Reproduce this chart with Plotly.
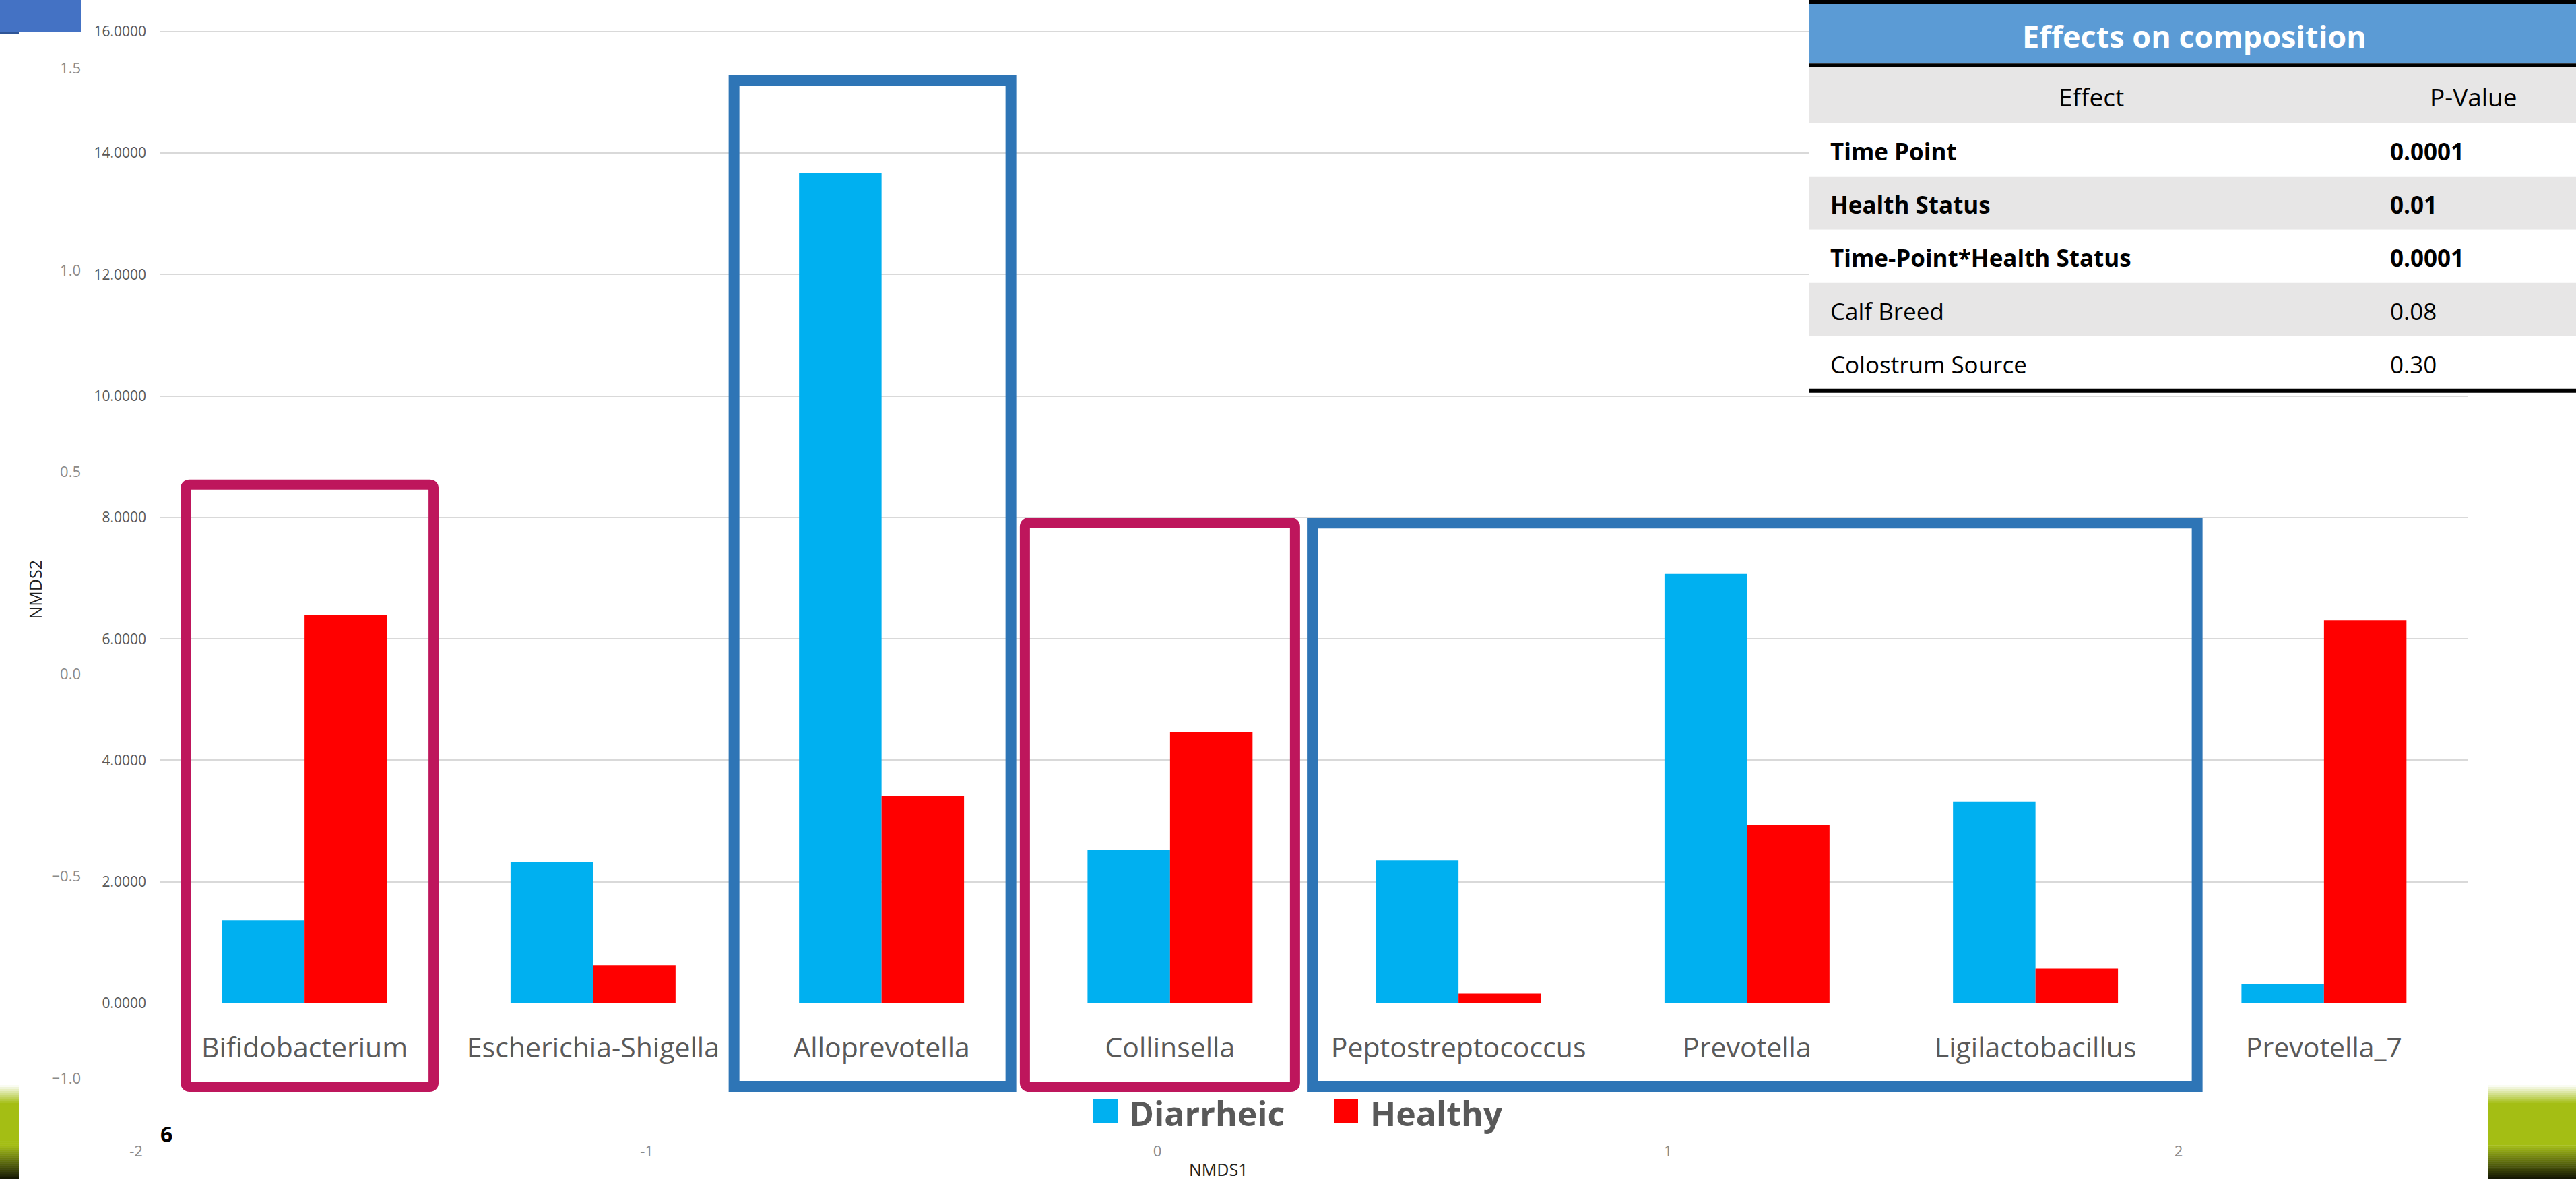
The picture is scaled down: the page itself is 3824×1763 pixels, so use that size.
import plotly.graph_objects as go

W, H = 3824, 1763

# ---------------- data ----------------
genera = ["Bifidobacterium", "Escherichia-Shigella", "Alloprevotella", "Collinsella",
          "Peptostreptococcus", "Prevotella", "Ligilactobacillus", "Prevotella_7"]
diarrheic = [1.36, 2.33, 13.68, 2.52, 2.36, 7.07, 3.32, 0.31]
healthy = [6.39, 0.63, 3.41, 4.47, 0.16, 2.94, 0.57, 6.31]
abundance_ticks = [0, 2, 4, 6, 8, 10, 12, 14, 16]

effects = ["Time Point", "Health Status", "Time-Point*Health Status",
           "Calf Breed", "Colostrum Source"]
p_values = ["0.0001", "0.01", "0.0001", "0.08", "0.30"]
significant = [True, True, True, False, False]

nmds1_ticks = [-2, -1, 0, 1, 2]
nmds2_ticks = [-1.0, -0.5, 0.0, 0.5, 1.0, 1.5]

# ---------------- geometry (pixels) ----------------
PLOT_L, PLOT_R = 238, 3664
ZERO_Y = 1500
PX_PER_UNIT = 90.8
CAT_W = (PLOT_R - PLOT_L) / len(genera)

C_DIAR = "#00B0F0"
C_HEAL = "#FF0000"
MAGENTA = "#BE165C"
BOXBLUE = "#2E75B6"
TXT = "#595959"
FONT = "Open Sans"


def fx(x):
    return x / W


def fy(y):
    return 1 - y / H


def cat_center(i):
    return PLOT_L + (i + 0.5) * CAT_W


fig = go.Figure()

fig.add_trace(go.Bar(x=genera, y=diarrheic, name="Diarrheic",
                     marker=dict(color=C_DIAR, line=dict(width=0)), showlegend=False))
fig.add_trace(go.Bar(x=genera, y=healthy, name="Healthy",
                     marker=dict(color=C_HEAL, line=dict(width=0)), showlegend=False))

# empty trace that carries the NMDS ordination axes in the background
fig.add_trace(go.Scatter(x=[None], y=[None], xaxis="x2", yaxis="y2",
                         showlegend=False, hoverinfo="skip"))

shapes = []
annotations = []

# ---------------- highlight boxes ----------------
boxes = [
    dict(first=0, last=0, pad_l=184, pad_r=199, top=717, color=MAGENTA, w=15, rounded=True),
    dict(first=2, last=2, pad_l=227, pad_r=200, top=112, color=BOXBLUE, w=16, rounded=False),
    dict(first=3, last=3, pad_l=223, pad_r=193, top=774, color=MAGENTA, w=15, rounded=True),
    dict(first=4, last=6, pad_l=225, pad_r=248, top=774, color=BOXBLUE, w=16, rounded=False),
]
BOX_BOTTOM = 1632
for b in boxes:
    h = b["w"] / 2
    x0 = cat_center(b["first"]) - b["pad_l"] + h
    x1 = cat_center(b["last"]) + b["pad_r"] - h
    y0 = b["top"] + h
    y1 = BOX_BOTTOM - h
    if b["rounded"]:
        r = 6
        pts = [
            f"M {fx(x0 + r)},{fy(y0)}", f"L {fx(x1 - r)},{fy(y0)}",
            f"Q {fx(x1)},{fy(y0)} {fx(x1)},{fy(y0 + r)}", f"L {fx(x1)},{fy(y1 - r)}",
            f"Q {fx(x1)},{fy(y1)} {fx(x1 - r)},{fy(y1)}", f"L {fx(x0 + r)},{fy(y1)}",
            f"Q {fx(x0)},{fy(y1)} {fx(x0)},{fy(y1 - r)}", f"L {fx(x0)},{fy(y0 + r)}",
            f"Q {fx(x0)},{fy(y0)} {fx(x0 + r)},{fy(y0)}", "Z",
        ]
        shapes.append(dict(type="path", xref="paper", yref="paper", path=" ".join(pts),
                           line=dict(color=b["color"], width=b["w"]), layer="above"))
    else:
        shapes.append(dict(type="rect", xref="paper", yref="paper",
                           x0=fx(x0), x1=fx(x1), y0=fy(y0), y1=fy(y1),
                           line=dict(color=b["color"], width=b["w"]), layer="above"))

# ---------------- legend ----------------
legend_items = [("Diarrheic", C_DIAR, 1623, 1678), ("Healthy", C_HEAL, 1980, 2036)]
for label, color, sq_x, tx in legend_items:
    shapes.append(dict(type="rect", xref="paper", yref="paper",
                       x0=fx(sq_x), x1=fx(sq_x + 36), y0=fy(1643), y1=fy(1679),
                       line=dict(width=0), fillcolor=color, layer="above"))
    annotations.append(dict(text=f"<b>{label}</b>", xref="paper", yref="paper",
                            x=fx(tx - 4), y=fy(1664), xanchor="left", yanchor="middle",
                            showarrow=False, font=dict(family=FONT, size=50, color=TXT)))

# ---------------- effects table ----------------
T_L, T_R = 2686, W
shapes.append(dict(type="rect", xref="paper", yref="paper", x0=fx(T_L), x1=fx(T_R),
                   y0=fy(0), y1=fy(6), fillcolor="#000000", line=dict(width=0), layer="above"))
shapes.append(dict(type="rect", xref="paper", yref="paper", x0=fx(T_L), x1=fx(T_R),
                   y0=fy(6), y1=fy(95), fillcolor="#5B9BD5", line=dict(width=0), layer="above"))
shapes.append(dict(type="rect", xref="paper", yref="paper", x0=fx(T_L), x1=fx(T_R),
                   y0=fy(95), y1=fy(100), fillcolor="#000000", line=dict(width=0), layer="above"))
shapes.append(dict(type="rect", xref="paper", yref="paper", x0=fx(T_L), x1=fx(T_R),
                   y0=fy(100), y1=fy(184), fillcolor="#E7E6E6", line=dict(width=0), layer="above"))
ROW_TOP, ROW_H = 184, 79.6
for i, (eff, pv, sig) in enumerate(zip(effects, p_values, significant)):
    top = ROW_TOP + i * ROW_H
    shapes.append(dict(type="rect", xref="paper", yref="paper", x0=fx(T_L), x1=fx(T_R),
                       y0=fy(top), y1=fy(top + ROW_H),
                       fillcolor="#E7E6E6" if i % 2 else "#FFFFFF",
                       line=dict(width=0), layer="above"))
    mid = top + ROW_H / 2 + 2
    label = f"<b>{eff}</b>" if sig else eff
    value = f"<b>{pv}</b>" if sig else pv
    annotations.append(dict(text=label, xref="paper", yref="paper", x=fx(2715), y=fy(mid),
                            xanchor="left", yanchor="middle", showarrow=False,
                            font=dict(family=FONT, size=35, color="#000000")))
    annotations.append(dict(text=value, xref="paper", yref="paper", x=fx(3546), y=fy(mid),
                            xanchor="left", yanchor="middle", showarrow=False,
                            font=dict(family=FONT, size=35, color="#000000")))
table_bottom = ROW_TOP + len(effects) * ROW_H
shapes.append(dict(type="rect", xref="paper", yref="paper", x0=fx(T_L), x1=fx(T_R),
                   y0=fy(table_bottom - 1), y1=fy(table_bottom + 5),
                   fillcolor="#000000", line=dict(width=0), layer="above"))
annotations.append(dict(text="<b>Effects on composition</b>", xref="paper", yref="paper",
                        x=fx(3257), y=fy(54), xanchor="center", yanchor="middle",
                        showarrow=False, font=dict(family=FONT, size=45, color="#FFFFFF")))
annotations.append(dict(text="Effect", xref="paper", yref="paper", x=fx(3104), y=fy(145),
                        xanchor="center", yanchor="middle", showarrow=False,
                        font=dict(family=FONT, size=37, color="#000000")))
annotations.append(dict(text="P-Value", xref="paper", yref="paper", x=fx(3672), y=fy(145),
                        xanchor="center", yanchor="middle", showarrow=False,
                        font=dict(family=FONT, size=37, color="#000000")))

# ---------------- slide furniture ----------------
shapes.append(dict(type="rect", xref="paper", yref="paper", x0=0, x1=fx(120),
                   y0=fy(0), y1=fy(48), fillcolor="#4472C4", line=dict(width=0), layer="above"))
shapes.append(dict(type="rect", xref="paper", yref="paper", x0=0, x1=fx(28),
                   y0=fy(48), y1=fy(51), fillcolor="#2F5597", line=dict(width=0), layer="above"))

# green gradient corner blocks
grad_stops = [(1622, (255, 255, 255)), (1650, (164, 190, 20)),
              (1712, (164, 190, 20)), (1763, (18, 20, 4))]


def grad_color(y):
    for (ya, ca), (yb, cb) in zip(grad_stops[:-1], grad_stops[1:]):
        if ya <= y <= yb:
            t = (y - ya) / (yb - ya)
            c = [round(a + (b - a) * t) for a, b in zip(ca, cb)]
            return f"rgb({c[0]},{c[1]},{c[2]})"
    return "rgb(18,20,4)"


STEP = 3
for y in range(1622, 1763, STEP):
    col = grad_color(y + STEP / 2)
    for xa, xb in ((0, 28), (3693, W)):
        shapes.append(dict(type="rect", xref="paper", yref="paper",
                           x0=fx(xa), x1=fx(xb), y0=fy(y), y1=fy(min(y + STEP + 0.5, H)),
                           fillcolor=col, line=dict(width=0), layer="above"))

annotations.append(dict(text="<b>6</b>", xref="paper", yref="paper", x=fx(247), y=fy(1695),
                        xanchor="center", yanchor="middle", showarrow=False,
                        font=dict(family=FONT, size=32, color="#000000")))
annotations.append(dict(text="NMDS2", xref="paper", yref="paper", x=fx(52), y=fy(882),
                        xanchor="center", yanchor="middle", textangle=-90, showarrow=False,
                        font=dict(family=FONT, size=25, color="#222222")))
annotations.append(dict(text="NMDS1", xref="paper", yref="paper", x=fx(1808), y=fy(1748),
                        xanchor="center", yanchor="middle", showarrow=False,
                        font=dict(family=FONT, size=25, color="#222222")))

# ---------------- layout ----------------
y_top = ZERO_Y / PX_PER_UNIT
fig.update_layout(
    width=W, height=H,
    margin=dict(l=0, r=0, t=0, b=0),
    paper_bgcolor="#FFFFFF",
    plot_bgcolor="rgba(0,0,0,0)",
    barmode="group",
    bargap=0.428,
    bargroupgap=0,
    font=dict(family=FONT, color=TXT),
    xaxis=dict(domain=[fx(PLOT_L), fx(PLOT_R)], type="category", showgrid=False,
               showline=False, zeroline=False, ticks="", tickangle=0,
               tickfont=dict(family=FONT, size=41, color=TXT), ticklabelstandoff=38,
               anchor="y"),
    yaxis=dict(domain=[fy(ZERO_Y), 1], range=[0, y_top], tickvals=abundance_ticks,
               tickformat=".4f", showgrid=True, gridcolor="#D9D9D9", gridwidth=2,
               zeroline=False, showline=False, ticks="",
               tickfont=dict(family=FONT, size=21, color=TXT), ticklabelstandoff=20,
               anchor="x"),
    xaxis2=dict(domain=[0, 1], range=[-1718 / 758, (W - 1718) / 758], tickvals=nmds1_ticks,
                ticktext=[str(v) for v in nmds1_ticks], showgrid=False, zeroline=False,
                showline=False, ticks="", anchor="free", position=fy(1706),
                tickfont=dict(family=FONT, size=22, color="#8A8A8A")),
    yaxis2=dict(domain=[0, 1], range=[(1008 - H) / 604, 1008 / 604], tickvals=nmds2_ticks,
                tickformat=".1f", showgrid=False, zeroline=False, showline=False, ticks="",
                anchor="free", position=fx(120), side="left",
                tickfont=dict(family=FONT, size=22, color="#8A8A8A")),
    shapes=shapes,
    annotations=annotations,
    showlegend=False,
)

fig.write_html("out.html")
